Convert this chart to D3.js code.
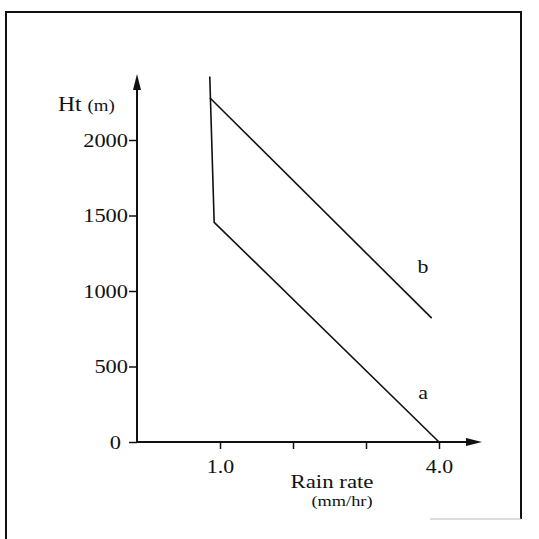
<!DOCTYPE html>
<html>
<head>
<meta charset="utf-8">
<script src="https://cdn.jsdelivr.net/npm/d3@7"></script>
<style>
  body { margin: 0; background: #fff; }
  svg { display: block; }
  text { font-family: "Liberation Serif", "Times New Roman", serif; fill: #111; }
</style>
</head>
<body>
<script>
// data
var heightTicks = [0, 500, 1000, 1500, 2000];
var rateTicks = [1, 2, 3, 4];
var rateLabels = ["1.0", "", "", "4.0"];
var curveARate = [0.86, 0.92, 4.0];
var curveAHt = [2420, 1455, 0];
var curveBRate = [0.86, 3.9];
var curveBHt = [2280, 820];

var W = 539, H = 539;
var svg = d3.select("body").append("svg")
    .attr("width", W)
    .attr("height", H);

// the scanned lettering is a bit wider than Times, so stretch it
function widen(sel, k) {
    sel.each(function () {
        var len = this.getComputedTextLength();
        if (len > 0) {
            d3.select(this)
                .attr("textLength", len * k)
                .attr("lengthAdjust", "spacingAndGlyphs");
        }
    });
}

// frame
svg.append("path")
    .attr("d", "M6,539 L6,12 L521,12 L521,519")
    .attr("fill", "none")
    .attr("stroke", "#111")
    .attr("stroke-width", 2);
svg.append("line")
    .attr("x1", 430).attr("x2", 521).attr("y1", 519).attr("y2", 519)
    .attr("stroke", "#bbb").attr("stroke-width", 1);

var x = d3.scaleLinear().domain([0, 4]).range([147, 439]);
var y = d3.scaleLinear().domain([0, 2000]).range([442, 140]);
var axisX = 137, axisY = 442;

// y axis
var gy = svg.append("g")
    .attr("transform", "translate(" + axisX + ",0)")
    .call(d3.axisLeft(y).tickValues(heightTicks).tickSize(8).tickPadding(1)
        .tickFormat(d3.format("d")));
gy.select(".domain").remove();
gy.selectAll(".tick line").attr("stroke", "#111").attr("stroke-width", 1.5);
gy.selectAll(".tick text").style("font-size", "19px").attr("fill", "#111");
gy.selectAll(".tick").filter(function (d) { return d === 0; })
    .select("text").attr("x", -16);
widen(gy.selectAll(".tick text"), 1.18);

// x axis
var gx = svg.append("g")
    .attr("transform", "translate(0," + axisY + ")")
    .call(d3.axisBottom(x).tickValues(rateTicks).tickSize(7).tickPadding(11)
        .tickFormat(function (d, i) { return rateLabels[i]; }));
gx.select(".domain").remove();
gx.selectAll(".tick line").attr("stroke", "#111").attr("stroke-width", 1.5);
gx.selectAll(".tick text").style("font-size", "19px").attr("fill", "#111");
widen(gx.selectAll(".tick text"), 1.15);

// axis lines with arrows
svg.append("line")
    .attr("x1", axisX).attr("y1", axisY + 1).attr("x2", axisX).attr("y2", 84)
    .attr("stroke", "#111").attr("stroke-width", 2);
svg.append("path")
    .attr("d", "M" + axisX + ",74 L" + (axisX - 4) + ",90 L" + (axisX + 4) + ",90 Z")
    .attr("fill", "#111");
svg.append("line")
    .attr("x1", axisX).attr("y1", axisY).attr("x2", 470).attr("y2", axisY)
    .attr("stroke", "#111").attr("stroke-width", 2);
svg.append("path")
    .attr("d", "M482," + axisY + " L466," + (axisY - 4) + " L466," + (axisY + 4) + " Z")
    .attr("fill", "#111");

// curves
var line = d3.line()
    .x(function (d) { return x(d[0]); })
    .y(function (d) { return y(d[1]); });

var curveA = d3.zip(curveARate, curveAHt);
var curveB = d3.zip(curveBRate, curveBHt);

[curveA, curveB].forEach(function (c) {
    svg.append("path")
        .datum(c)
        .attr("d", line)
        .attr("fill", "none")
        .attr("stroke", "#111")
        .attr("stroke-width", 1.6);
});

// labels
var lb = svg.append("text").attr("x", 423).attr("y", 273)
    .attr("text-anchor", "middle").style("font-size", "19px").text("b");
var la = svg.append("text").attr("x", 423).attr("y", 399)
    .attr("text-anchor", "middle").style("font-size", "19px").text("a");
widen(lb, 1.15);
widen(la, 1.15);

var ht = svg.append("text").attr("x", 58).attr("y", 111);
ht.append("tspan").style("font-size", "20px").text("Ht ");
ht.append("tspan").style("font-size", "16px").text("(m)");
widen(ht, 1.18);

var rr = svg.append("text").attr("x", 332).attr("y", 488)
    .attr("text-anchor", "middle").style("font-size", "19px").text("Rain rate");
widen(rr, 1.2);
var mm = svg.append("text").attr("x", 342).attr("y", 506)
    .attr("text-anchor", "middle").style("font-size", "15px").text("(mm/hr)");
widen(mm, 1.22);
</script>
</body>
</html>
